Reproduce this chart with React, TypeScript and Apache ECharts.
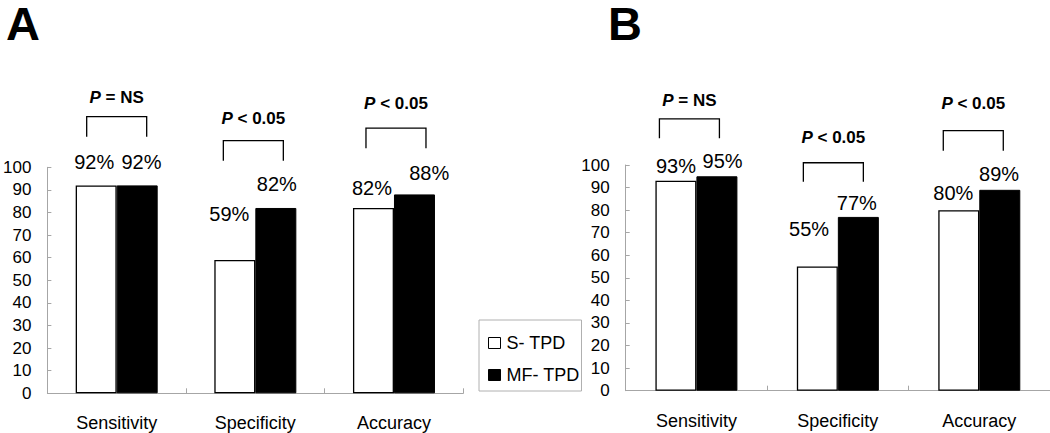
import React, { useEffect, useRef } from "react";
import * as echarts from "echarts";

const categories = ["Sensitivity", "Specificity", "Accuracy"];
const seriesNames = ["S- TPD", "MF- TPD"];
const panelTitles = ["A", "B"];
const yTicks = [0, 10, 20, 30, 40, 50, 60, 70, 80, 90, 100];

// Panel A values (%)
const sTpdA = [92, 59, 82];
const mfTpdA = [92, 82, 88];
// Panel B values (%)
const sTpdB = [93, 55, 80];
const mfTpdB = [95, 77, 89];

// significance annotations
const pLabelsA = ["{i|P} = NS", "{i|P} < 0.05", "{i|P} < 0.05"];
const pLabelsB = ["{i|P} = NS", "{i|P} < 0.05", "{i|P} < 0.05"];
// bracket levels, in axis units: [top, bottom of legs, text centre]
const bracketTopA = [122.4, 111.8, 117.3];
const bracketBottomA = [113.5, 102.9, 108.4];
const pTextA = [130.7, 121.7, 128.3];
const bracketTopB = [120.4, 101.0, 115.2];
const bracketBottomB = [111.8, 92.6, 106.3];
const pTextB = [128.5, 112.3, 127.3];

// styling (pixel offsets)
const labelOffS_A = [[-2, -13], [-5.5, -35.5], [-1.5, -10.2]];
const labelOffM_A = [[4.3, -13], [1, -13.5], [14.7, -11.6]];
const labelOffS_B = [[0, -4.6], [-8.3, -27.1], [-5.4, -7.3]];
const labelOffM_B = [[5.7, -5.1], [-1.5, -4.1], [-0.7, -6]];
const bracketShiftA = [0, -2, 2];
const bracketShiftB = [-7, -4.5, -6];

const FONT = "'Liberation Sans', Arial, Helvetica, sans-serif";
const AXIS_GRAY = "#a6a6a6";

export default function App() {
  const ref = useRef<HTMLDivElement>(null);

  useEffect(() => {
    if (!ref.current) return;
    const chart = echarts.init(ref.current, undefined, { renderer: "svg" });

    const grids = [
      { left: 41, top: 167.3, width: 422.3, height: 226 },
      { left: 625.7, top: 165, width: 424.3, height: 225.7 },
    ];

    const xAxes = grids.map((_, gi) => ({
      type: "category",
      gridIndex: gi,
      data: categories,
      axisLine: { show: true, lineStyle: { color: AXIS_GRAY, width: 1 } },
      axisTick: { show: true, inside: true, length: 5, lineStyle: { color: AXIS_GRAY } },
      axisLabel: { color: "#000", fontSize: 18, fontFamily: FONT, margin: 21 },
      splitLine: { show: false },
    }));

    const yAxes = grids.map((_, gi) => ({
      type: "value",
      gridIndex: gi,
      min: yTicks[0],
      max: yTicks[yTicks.length - 1],
      interval: 10,
      axisLine: { show: true, lineStyle: { color: AXIS_GRAY, width: 1 } },
      axisTick: { show: true, inside: true, length: 4, lineStyle: { color: AXIS_GRAY } },
      axisLabel: { color: "#000", fontSize: 17, fontFamily: FONT, margin: 16 },
      splitLine: { show: false },
    }));

    const makeBar = (
      name: string,
      gi: number,
      vals: number[],
      offs: number[][],
      white: boolean
    ) => ({
      type: "bar",
      name,
      xAxisIndex: gi,
      yAxisIndex: gi,
      barWidth: 41,
      barGap: "0%",
      data: vals.map((v, i) => ({
        value: v,
        label: { offset: offs[i] },
      })),
      itemStyle: white
        ? { color: "#fff", borderColor: "#000", borderWidth: 1.3 }
        : { color: "#000", borderColor: "#000", borderWidth: 1 },
      label: {
        show: true,
        position: "top",
        distance: 0,
        formatter: "{c}%",
        color: "#000",
        fontSize: 20,
        fontFamily: FONT,
      },
    });

    const makeBrackets = (
      gi: number,
      tops: number[],
      bottoms: number[],
      texts: number[],
      labels: string[],
      shifts: number[]
    ) => ({
      type: "custom",
      xAxisIndex: gi,
      yAxisIndex: gi,
      clip: false,
      silent: true,
      z: 10,
      data: categories.map((_, i) => [i, tops[i], bottoms[i], texts[i]]),
      encode: { x: 0, y: 1 },
      renderItem: (params: any, api: any) => {
        const i = api.value(0);
        const t = api.coord([i, api.value(1)]);
        const b = api.coord([i, api.value(2)]);
        const tx = api.coord([i, api.value(3)]);
        const cx = t[0] + shifts[params.dataIndex];
        const hw = 30;
        return {
          type: "group",
          children: [
            {
              type: "polyline",
              shape: {
                points: [
                  [cx - hw, b[1]],
                  [cx - hw, t[1]],
                  [cx + hw, t[1]],
                  [cx + hw, b[1]],
                ],
              },
              style: { stroke: "#000", lineWidth: 1.3, fill: null },
            },
            {
              type: "text",
              x: cx,
              y: tx[1],
              style: {
                text: labels[params.dataIndex],
                fill: "#000",
                fontSize: 17,
                fontWeight: "bold",
                fontFamily: FONT,
                align: "center",
                verticalAlign: "middle",
                rich: {
                  i: {
                    fontStyle: "italic",
                    fontWeight: "bold",
                    fontSize: 17,
                    fontFamily: FONT,
                    fill: "#000",
                  },
                },
              },
            },
          ],
        };
      },
    });

    chart.setOption({
      animation: false,
      backgroundColor: "#fff",
      grid: grids,
      xAxis: xAxes,
      yAxis: yAxes,
      legend: {
        orient: "vertical",
        left: 479,
        top: 320,
        selectedMode: false,
        borderColor: "#b0b0b0",
        borderWidth: 1,
        padding: [14, 2, 7, 9],
        itemWidth: 12,
        itemHeight: 11,
        itemGap: 14,
        textStyle: { color: "#000", fontSize: 18, fontFamily: FONT, padding: [0, 0, 0, 1] },
        data: [
          {
            name: seriesNames[0],
            icon: "rect",
            itemStyle: { color: "#fff", borderColor: "#000", borderWidth: 1 },
          },
          {
            name: seriesNames[1],
            icon: "rect",
            itemStyle: { color: "#000", borderColor: "#000", borderWidth: 1 },
          },
        ],
      },
      graphic: [
        {
          type: "text",
          x: 6,
          y: 0,
          style: {
            text: panelTitles[0],
            fontSize: 47,
            fontWeight: "bold",
            fontFamily: FONT,
            fill: "#000",
          },
        },
        {
          type: "text",
          x: 608,
          y: 0,
          style: {
            text: panelTitles[1],
            fontSize: 47,
            fontWeight: "bold",
            fontFamily: FONT,
            fill: "#000",
          },
        },
      ],
      series: [
        makeBar(seriesNames[0], 0, sTpdA, labelOffS_A, true),
        makeBar(seriesNames[1], 0, mfTpdA, labelOffM_A, false),
        makeBar(seriesNames[0], 1, sTpdB, labelOffS_B, true),
        makeBar(seriesNames[1], 1, mfTpdB, labelOffM_B, false),
        makeBrackets(0, bracketTopA, bracketBottomA, pTextA, pLabelsA, bracketShiftA),
        makeBrackets(1, bracketTopB, bracketBottomB, pTextB, pLabelsB, bracketShiftB),
      ],
    });

    return () => chart.dispose();
  }, []);

  return (
    <div
      ref={ref}
      style={{ position: "fixed", left: 0, top: 0, width: 1050, height: 433, background: "#fff" }}
    />
  );
}
